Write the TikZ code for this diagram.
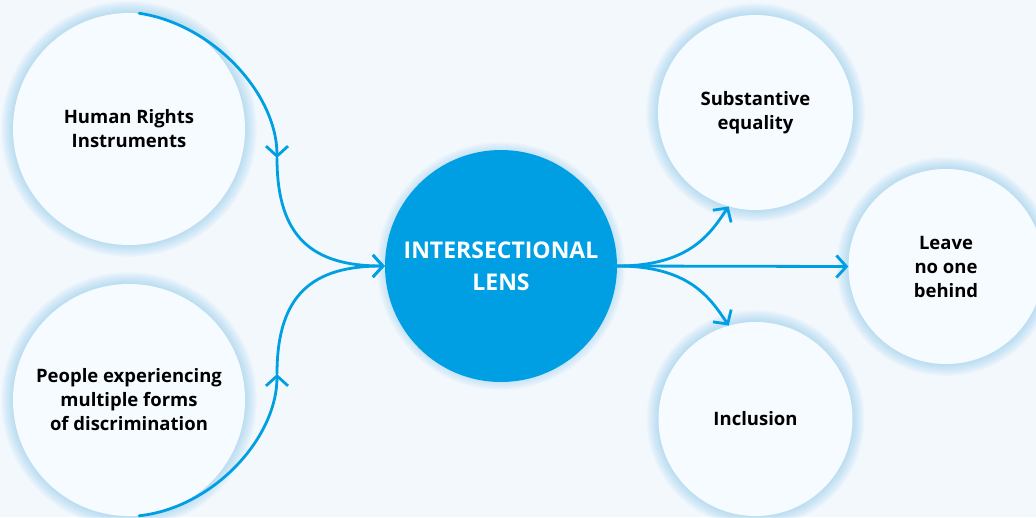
\documentclass[tikz,border=0pt]{standalone}
\usepackage{fontspec}
\setmainfont{Open Sans}
\usetikzlibrary{arrows.meta}
\definecolor{bg}{HTML}{F3F8FD}
\definecolor{cfill}{HTML}{F6FBFF}
\definecolor{glowc}{HTML}{8FCDF0}
\definecolor{lensblue}{HTML}{009FE3}
\tikzset{
  bubble/.style={circle, fill=cfill, inner sep=0pt, align=center, text=black,
    font=\bfseries\fontsize{18.5}{24}\selectfont},
  lensnode/.style={circle, fill=lensblue, inner sep=0pt, align=center, text=white,
    font=\bfseries\fontsize{23}{32}\selectfont},
  conn/.style={draw=lensblue, line width=2.8pt, line cap=round,
    -{Straight Barb[length=10pt,width=22pt]}},
  glowring/.style={fill=glowc, opacity=0.055},
}
\newcommand\myglow[3]{\foreach \i in {1,...,#3}{\fill[glowring] (#1) circle ({#2+\i*1pt});}}
\begin{document}
\begin{tikzpicture}[x=1pt,y=-1pt]
  \useasboundingbox (0,0) rectangle (1036,517);
  \fill[bg] (0,0) rectangle (1036,517);

  \coordinate (chr) at (129,129);
  \coordinate (cpe) at (129,400);
  \coordinate (clens) at (501,266);
  \coordinate (cse) at (755.5,112.5);
  \coordinate (clnb) at (946,266.5);
  \coordinate (cinc) at (755.5,419);

  \myglow{chr}{116pt}{12}
  \myglow{cpe}{116pt}{12}
  \myglow{clens}{116pt}{8}
  \myglow{cse}{97.5pt}{12}
  \myglow{clnb}{97.5pt}{12}
  \myglow{cinc}{97pt}{12}

  \node[bubble, minimum size=232pt] (hr) at (chr) {Human Rights\\Instruments};
  \node[bubble, minimum size=232pt] (pe) at (cpe) {People experiencing\\multiple forms\\of discrimination};
  \node[lensnode, minimum size=232pt] (lens) at (clens) {INTERSECTIONAL\\LENS};
  \node[bubble, minimum size=195pt] (se) at (cse) {Substantive\\equality};
  \node[bubble, minimum size=195pt] (lnb) at (clnb) {Leave\\no one\\behind};
  \node[bubble, minimum size=194pt] (inc) at (cinc) {Inclusion};

  \coordinate (m1) at (277,158);
  \coordinate (m2) at (277,374);

  \draw[conn] (hr.85) .. controls (212,24) and (277,93) .. (m1);
  \draw[conn] (m1) .. controls (277,238) and (313,266) .. (lens.west);
  \draw[conn] (pe.-85) .. controls (212,508) and (277,439) .. (m2);
  \draw[conn] (m2) .. controls (277,294) and (313,266) .. (lens.west);

  \draw[conn] (lens.east) -- (lnb.west);
  \draw[conn] (lens.east) .. controls (690,266) and (710.6,233.3) .. (se.254);
  \draw[conn] (lens.east) .. controls (690,266) and (710.6,298.7) .. (inc.106);
\end{tikzpicture}
\end{document}
